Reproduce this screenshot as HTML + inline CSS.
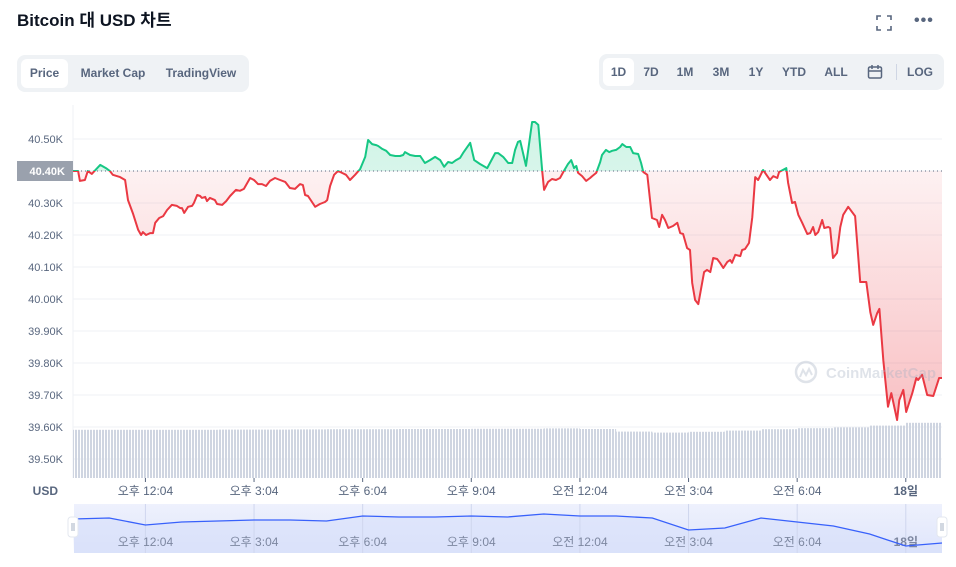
<!DOCTYPE html>
<html><head><meta charset="utf-8">
<style>
body{margin:0;width:956px;height:567px;background:#fff;font-family:"Liberation Sans","Noto Sans CJK KR",sans-serif;overflow:hidden;position:relative}
.title{position:absolute;left:17px;top:6px;font-size:17px;font-weight:bold;color:#0d1421}
.tabs{position:absolute;left:17px;top:55px;height:37px;width:232px;background:#eff2f5;border-radius:8px}
.tab{position:absolute;top:4px;height:29px;line-height:29px;font-size:12px;color:#58667e;font-weight:bold;text-align:center;border-radius:6px}
.range{position:absolute;left:599px;top:54px;width:345px;height:36px;background:#eff2f5;border-radius:8px}
.r{position:absolute;top:4px;height:28px;line-height:28px;font-size:12px;font-weight:bold;color:#58667e;text-align:center;border-radius:6px}
svg{position:absolute;left:0;top:0}
</style></head><body>
<div class="title">Bitcoin 대 USD 차트</div>
<div style="position:absolute;left:876px;top:15px;width:16px;height:16px;">
<svg width="16" height="16" style="position:static"><path d="M1 5V1h4M11 1h4v4M15 11v4h-4M5 15H1v-4" fill="none" stroke="#58667e" stroke-width="1.6"/></svg></div>
<div style="position:absolute;left:914px;top:12px;font-size:16px;color:#58667e;font-weight:bold;letter-spacing:1px">•••</div>
<div class="tabs">
 <div class="tab" style="left:4px;width:47px;background:#fff">Price</div>
 <div class="tab" style="left:56px;width:80px">Market Cap</div>
 <div class="tab" style="left:142px;width:84px">TradingView</div>
</div>
<div class="range">
 <div class="r" style="left:4px;width:31px;background:#fff">1D</div>
 <div class="r" style="left:38px;width:28px">7D</div>
 <div class="r" style="left:72px;width:28px">1M</div>
 <div class="r" style="left:108px;width:28px">3M</div>
 <div class="r" style="left:143px;width:28px">1Y</div>
 <div class="r" style="left:179px;width:32px">YTD</div>
 <div class="r" style="left:222px;width:30px">ALL</div>
 <div class="r" style="left:264px;width:24px"><svg width="16" height="16" style="position:static;margin-top:6px"><rect x="1.5" y="3" width="13" height="11" rx="1.5" fill="none" stroke="#58667e" stroke-width="1.5"/><path d="M1.5 7h13M5 1v4M11 1v4" stroke="#58667e" stroke-width="1.5"/></svg></div>
 <div style="position:absolute;left:297px;top:10px;width:1px;height:16px;background:#cfd6e4"></div>
 <div class="r" style="left:305px;width:32px">LOG</div>
</div>
<svg id="chart" width="956" height="567"></svg>
<script>
// [hours since start, price USD]
const pricePoints=[[0,40400],[.14,40400],[.19,40369],[.33,40372],[.41,40400],[.52,40391],[.75,40419],[.91,40409],[1.02,40400],[1.10,40388],[1.30,40381],[1.44,40372],[1.52,40309],[1.66,40266],[1.80,40216],[1.88,40200],[1.93,40209],[2.02,40200],[2.13,40206],[2.21,40206],[2.27,40238],[2.38,40253],[2.49,40259],[2.60,40278],[2.73,40294],[2.87,40291],[2.96,40284],[3.01,40284],[3.07,40269],[3.18,40288],[3.29,40291],[3.34,40300],[3.43,40325],[3.51,40322],[3.56,40316],[3.65,40319],[3.70,40306],[3.78,40316],[3.92,40309],[3.98,40297],[4.12,40294],[4.23,40306],[4.34,40322],[4.50,40341],[4.61,40338],[4.72,40344],[4.89,40378],[5.00,40372],[5.11,40359],[5.22,40359],[5.33,40353],[5.44,40369],[5.58,40378],[5.72,40372],[5.86,40366],[5.99,40347],[6.13,40344],[6.27,40359],[6.35,40356],[6.41,40325],[6.49,40322],[6.69,40288],[6.82,40297],[6.96,40303],[7.02,40309],[7.10,40353],[7.21,40388],[7.32,40400],[7.43,40394],[7.54,40388],[7.65,40372],[7.79,40388],[7.93,40406],[8.07,40444],[8.15,40497],[8.26,40484],[8.37,40481],[8.43,40478],[8.54,40469],[8.65,40463],[8.76,40450],[8.90,40447],[9.03,40447],[9.12,40450],[9.17,40459],[9.31,40450],[9.45,40447],[9.59,40447],[9.72,40425],[9.86,40434],[10.00,40444],[10.14,40434],[10.25,40413],[10.36,40428],[10.47,40425],[10.58,40434],[10.69,40441],[10.77,40456],[10.97,40488],[11.08,40434],[11.24,40422],[11.44,40409],[11.66,40456],[11.74,40456],[11.88,40444],[12.02,40425],[12.13,40425],[12.21,40466],[12.29,40491],[12.35,40494],[12.51,40416],[12.68,40553],[12.76,40553],[12.85,40544],[12.96,40397],[13.01,40341],[13.12,40366],[13.23,40375],[13.34,40372],[13.45,40378],[13.54,40397],[13.67,40422],[13.76,40434],[13.84,40409],[13.90,40416],[13.95,40394],[14.06,40384],[14.17,40369],[14.28,40378],[14.34,40384],[14.45,40394],[14.56,40428],[14.61,40450],[14.72,40466],[14.81,40459],[14.89,40463],[15.00,40466],[15.11,40475],[15.17,40484],[15.28,40475],[15.39,40475],[15.47,40456],[15.61,40453],[15.69,40425],[15.75,40397],[15.86,40388],[15.99,40253],[16.13,40247],[16.19,40225],[16.27,40263],[16.35,40247],[16.44,40222],[16.57,40228],[16.69,40238],[16.77,40206],[16.85,40203],[16.96,40159],[17.04,40153],[17.10,40050],[17.18,39997],[17.27,39984],[17.43,40084],[17.51,40091],[17.60,40084],[17.68,40128],[17.79,40125],[17.87,40113],[17.96,40097],[18.07,40116],[18.15,40122],[18.20,40113],[18.29,40138],[18.43,40134],[18.48,40153],[18.56,40156],[18.67,40175],[18.76,40256],[18.84,40381],[18.92,40372],[19.06,40403],[19.25,40372],[19.34,40384],[19.45,40378],[19.50,40397],[19.70,40409],[19.75,40363],[19.86,40300],[19.94,40303],[20.03,40263],[20.14,40238],[20.28,40203],[20.36,40206],[20.44,40225],[20.50,40200],[20.58,40209],[20.69,40247],[20.75,40222],[20.86,40225],[20.91,40222],[20.99,40128],[21.10,40144],[21.19,40225],[21.27,40263],[21.41,40288],[21.60,40259],[21.74,40053],[21.91,40053],[22.02,39959],[22.10,39919],[22.21,39956],[22.27,39969],[22.38,39809],[22.51,39663],[22.60,39706],[22.76,39622],[22.82,39684],[22.93,39716],[23.01,39647],[23.18,39706],[23.29,39753],[23.34,39747],[23.45,39763],[23.59,39700],[23.76,39697],[23.92,39753],[24.0,39753]];
const yTicks=[40500,40400,40300,40200,40100,40000,39900,39800,39700,39600,39500];
const yTickLabels=["40.50K","40.40K","40.30K","40.20K","40.10K","40.00K","39.90K","39.80K","39.70K","39.60K","39.50K"];
const xTicks=[2,5,8,11,14,17,20,23];
const xTickLabels=["오후 12:04","오후 3:04","오후 6:04","오후 9:04","오전 12:04","오전 3:04","오전 6:04","18일"];
const volumes=[24.1,24.1,24.1,24.1,24.2,24.2,24.3,24.4,24.4,24.5,24.5,24.6,24.6,24.8,24.5,23.2,22.7,23.1,23.7,24.4,24.9,25.3,26.2,27.6];
const navValues=[40412,40443,40223,40317,40349,40380,40380,40349,40506,40474,40474,40506,40474,40569,40506,40506,40443,40066,40129,40443,40317,40192,39941,39564,39658];
const baseline=40400;

const NS="http://www.w3.org/2000/svg";
const svg=document.getElementById('chart');
const X0=73,X1=942;
const xS=t=>X0+(t/24)*(X1-X0);
const yS=v=>171-(v-40400)*0.32;
const volY=v=>478-v*2;
const navY=v=>513+(40600-v)/1100*35;
function mk(tag,attrs,parent){const e=document.createElementNS(NS,tag);for(const k in attrs)e.setAttribute(k,attrs[k]);(parent||svg).appendChild(e);return e;}

const defs=mk('defs',{});
defs.innerHTML='<pattern id="vstripe" width="3" height="10" patternUnits="userSpaceOnUse"><rect x="0" y="0" width="2" height="10" fill="#cfd5e1"/></pattern>'+
'<linearGradient id="gRed" x1="0" y1="0" x2="0" y2="1" gradientUnits="objectBoundingBox"><stop offset="0" stop-color="#ea3943" stop-opacity="0.02"/><stop offset="1" stop-color="#ea3943" stop-opacity="0.32"/></linearGradient>'+
'<linearGradient id="gGreen" x1="0" y1="1" x2="0" y2="0"><stop offset="0" stop-color="#16c784" stop-opacity="0.02"/><stop offset="1" stop-color="#16c784" stop-opacity="0.2"/></linearGradient>'+
'<clipPath id="cAbove"><rect x="0" y="0" width="956" height="'+yS(baseline)+'"/></clipPath>'+
'<clipPath id="cBelow"><rect x="0" y="'+yS(baseline)+'" width="956" height="400"/></clipPath>'+
'<linearGradient id="gNav" x1="0" y1="0" x2="0" y2="1"><stop offset="0" stop-color="#eef1fd"/><stop offset="1" stop-color="#dfe5fb"/></linearGradient>';

yTicks.forEach((v,i)=>{
  const g=mk('line',{x1:X0,x2:X1,y1:yS(v),y2:yS(v),stroke:'#eff2f5','stroke-width':1});
  
  
  if(v!==baseline){
    const t=mk('text',{x:63,y:yS(v)+4,'text-anchor':'end','font-size':11,fill:'#58667e'});
    t.textContent=yTickLabels[i];
    
    
  }
});
mk('line',{x1:X0,x2:X0,y1:105,y2:478,stroke:'#eff2f5'});

volumes.forEach((v,i)=>{
  const r=mk('rect',{x:xS(i),y:volY(v),width:xS(i+1)-xS(i),height:478-volY(v),fill:'url(#vstripe)'});
  
  
});

const pts=pricePoints.map(p=>[xS(p[0]),yS(p[1])]);
const lineD='M'+pts.map(p=>p[0].toFixed(1)+','+p[1].toFixed(1)).join('L');
const areaD=lineD+'L'+pts[pts.length-1][0]+','+yS(baseline)+'L'+pts[0][0]+','+yS(baseline)+'Z';
const aR=mk('path',{d:areaD,fill:'url(#gRed)','clip-path':'url(#cBelow)'});


const aG=mk('path',{d:areaD,fill:'url(#gGreen)','clip-path':'url(#cAbove)'});


const bl=mk('line',{x1:X0,x2:X1,y1:yS(baseline),y2:yS(baseline),stroke:'#58667e','stroke-width':1,'stroke-dasharray':'1 3'});


const lR=mk('path',{d:lineD,fill:'none',stroke:'#ea3943','stroke-width':2,'stroke-linejoin':'round','clip-path':'url(#cBelow)'});


const lG=mk('path',{d:lineD,fill:'none',stroke:'#16c784','stroke-width':2,'stroke-linejoin':'round','clip-path':'url(#cAbove)'});



const bb=mk('rect',{x:17,y:yS(baseline)-10,width:56,height:20,fill:'#9aa1ad'});


const bt=mk('text',{x:65,y:yS(baseline)+4,'text-anchor':'end','font-size':11,'font-weight':'bold',fill:'#fff'});
bt.textContent=yTickLabels[1];



const wm=mk('g',{opacity:0.35});


mk('circle',{cx:806,cy:372,r:10,fill:'none',stroke:'#a6b0c3','stroke-width':2.5},wm);
mk('path',{d:'M800 377l3-7 3 5 3-6 3 6',fill:'none',stroke:'#a6b0c3','stroke-width':2},wm);
const wt=mk('text',{x:826,y:378,'font-size':15,'font-weight':'bold',fill:'#a6b0c3'},wm);
wt.textContent='CoinMarketCap';

const usd=mk('text',{x:58,y:495,'text-anchor':'end','font-size':12,'font-weight':'bold',fill:'#58667e'});
usd.textContent='USD';


xTicks.forEach((t,i)=>{
  mk('line',{x1:xS(t),x2:xS(t),y1:478,y2:482,stroke:'#58667e'});
  const tx=mk('text',{x:xS(t),y:495,'text-anchor':'middle','font-size':12,fill:'#58667e','font-weight':i===7?'bold':'normal'});
  tx.textContent=xTickLabels[i];
  
  
});

const nb=mk('rect',{x:74,y:504,width:868,height:49,fill:'url(#gNav)'});


const npts=navValues.map((v,i)=>[xS(i),navY(v)]);
const nd='M'+npts.map(p=>p[0].toFixed(1)+','+p[1].toFixed(1)).join('L');
mk('path',{d:nd+'L942,553L74,553Z',fill:'#d7dffa',opacity:0.6});
xTicks.forEach((t,i)=>{
  mk('line',{x1:xS(t),x2:xS(t),y1:504,y2:553,stroke:'#cfd6ee'});
  const tx=mk('text',{x:xS(t),y:546,'text-anchor':'middle','font-size':12,fill:'#7d87a0','font-weight':i===7?'bold':'normal'});
  tx.textContent=xTickLabels[i];
  
  
});
const nl=mk('path',{d:nd,fill:'none',stroke:'#3861fb','stroke-width':1.3});


[[68,'navigator-left-handle'],[937,'navigator-right-handle']].forEach(h=>{
  const r=mk('rect',{x:h[0],y:517,width:10,height:20,rx:3,fill:'#fff',stroke:'#e3e7ef'});
  
  
  mk('path',{d:'M'+(h[0]+4)+' 523v8M'+(h[0]+6)+' 523v8',stroke:'#a6b0c3'});
});
</script>
</body></html>
